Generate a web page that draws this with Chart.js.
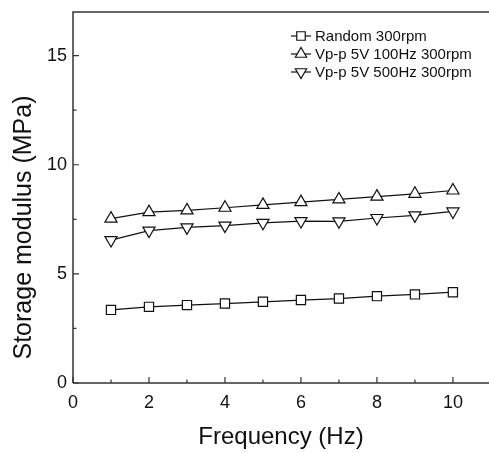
<!DOCTYPE html>
<html>
<head>
<meta charset="utf-8">
<script src="https://cdn.jsdelivr.net/npm/chart.js@4.4.0/dist/chart.umd.min.js"></script>
<style>
  html, body { margin: 0; padding: 0; background: #fff; overflow: hidden; }
</style>
</head>
<body>
<canvas id="modulusChart" width="489" height="453"></canvas>
<script>
const frequency = [1, 2, 3, 4, 5, 6, 7, 8, 9, 10];
const random300 = [3.35, 3.49, 3.57, 3.64, 3.72, 3.80, 3.87, 3.98, 4.06, 4.16];
const vpp100Hz = [7.53, 7.83, 7.91, 8.03, 8.16, 8.29, 8.41, 8.54, 8.67, 8.82];
const vpp500Hz = [6.55, 6.98, 7.13, 7.21, 7.34, 7.42, 7.41, 7.56, 7.68, 7.86];
const seriesLabels = ['Random 300rpm', 'Vp-p 5V 100Hz 300rpm', 'Vp-p 5V 500Hz 300rpm'];
const xTicks = [0, 2, 4, 6, 8, 10];
const yTicks = [0, 5, 10, 15];
const yTitle = 'Storage modulus (MPa)';

const FONT = '"Liberation Sans", Arial, sans-serif';
const ink = '#111';

function toPoints(values) {
  return frequency.map((f, i) => ({ x: f, y: values[i] }));
}

function series(label, values, style, rotation) {
  return {
    label: label,
    data: toPoints(values),
    borderColor: ink,
    borderWidth: 1.2,
    pointStyle: style,
    rotation: rotation,
    pointRadius: style === 'rect' ? 6.5 : 7,
    pointBackgroundColor: '#fff',
    pointBorderColor: ink,
    pointBorderWidth: 1.2,
    tension: 0
  };
}

// frame on left/top/bottom plus inward ticks (major + minor)
const framePlugin = {
  id: 'frame',
  afterDraw(chart) {
    const { ctx, chartArea: a, scales: { x, y } } = chart;
    ctx.save();
    ctx.strokeStyle = '#333';
    ctx.lineWidth = 1.5;
    ctx.beginPath();
    ctx.moveTo(a.left, a.bottom); ctx.lineTo(a.left, a.top); ctx.lineTo(a.right, a.top);
    ctx.moveTo(a.left, a.bottom); ctx.lineTo(a.right, a.bottom);
    ctx.stroke();

    ctx.lineWidth = 1.2;
    ctx.beginPath();
    const xStep = (xTicks[1] - xTicks[0]) / 2;
    for (let v = xTicks[0]; v <= xTicks[xTicks.length - 1] + xStep; v += xStep) {
      const px = x.getPixelForValue(v);
      if (px > a.right) break;
      const len = xTicks.includes(v) ? 6 : 3.5;
      ctx.moveTo(px, a.bottom); ctx.lineTo(px, a.bottom - len);
    }
    const yStep = (yTicks[1] - yTicks[0]) / 2;
    for (let v = yTicks[0]; v <= y.max; v += yStep) {
      const py = y.getPixelForValue(v);
      const len = yTicks.includes(v) ? 6 : 3.5;
      ctx.moveTo(a.left, py); ctx.lineTo(a.left + len, py);
    }
    ctx.stroke();

    // y title, sits a bit below the middle of the axis in the original
    ctx.fillStyle = ink;
    ctx.font = '25px ' + FONT;
    ctx.textAlign = 'center';
    ctx.textBaseline = 'middle';
    ctx.translate(24, (a.top + a.bottom) / 2 + 30);
    ctx.rotate(-Math.PI / 2);
    ctx.fillText(yTitle, 0, 0);
    ctx.restore();
  }
};

function drawMarker(ctx, style, rotation, cx, cy, r) {
  ctx.beginPath();
  if (style === 'rect') {
    const s = r * Math.SQRT1_2;
    ctx.rect(cx - s, cy - s, 2 * s, 2 * s);
  } else {
    let rad = rotation * Math.PI / 180;
    ctx.moveTo(cx + Math.sin(rad) * r, cy - Math.cos(rad) * r);
    for (let k = 0; k < 2; k++) {
      rad += 2 * Math.PI / 3;
      ctx.lineTo(cx + Math.sin(rad) * r, cy - Math.cos(rad) * r);
    }
    ctx.closePath();
  }
  ctx.fill();
  ctx.stroke();
}

// legend: short line with the marker in the middle, like the original plot
const legendPlugin = {
  id: 'markerLegend',
  afterDraw(chart) {
    const { ctx, chartArea: a } = chart;
    const x0 = a.right - 198;
    const y0 = a.top + 24;
    ctx.save();
    ctx.font = '15px ' + FONT;
    ctx.textBaseline = 'middle';
    chart.data.datasets.forEach((ds, i) => {
      const yy = y0 + i * 18;
      ctx.strokeStyle = ink;
      ctx.lineWidth = 1.2;
      ctx.beginPath();
      ctx.moveTo(x0, yy); ctx.lineTo(x0 + 20, yy);
      ctx.stroke();
      ctx.fillStyle = '#fff';
      drawMarker(ctx, ds.pointStyle, ds.rotation || 0, x0 + 10, yy, ds.pointStyle === 'rect' ? 6 : 6.5);
      ctx.fillStyle = ink;
      ctx.fillText(ds.label, x0 + 24, yy + 1);
    });
    ctx.restore();
  }
};

new Chart(document.getElementById('modulusChart').getContext('2d'), {
  type: 'line',
  data: {
    datasets: [
      series(seriesLabels[0], random300, 'rect', 0),
      series(seriesLabels[1], vpp100Hz, 'triangle', 0),
      series(seriesLabels[2], vpp500Hz, 'triangle', 180)
    ]
  },
  options: {
    responsive: false,
    animation: false,
    layout: { autoPadding: false, padding: { top: 12, right: 0, left: 0, bottom: 0 } },
    plugins: {
      legend: { display: false },
      tooltip: { enabled: false }
    },
    scales: {
      x: {
        type: 'linear',
        min: 0,
        max: 10.95,
        afterFit(scale) { scale.height = 70; scale.paddingRight = 0; scale.paddingLeft = 0; },
        afterBuildTicks(scale) { scale.ticks = xTicks.map(v => ({ value: v })); },
        grid: { display: false, drawTicks: false },
        border: { display: false },
        ticks: { color: ink, font: { family: FONT, size: 18 }, padding: 9, maxRotation: 0 },
        title: { display: true, text: 'Frequency (Hz)', color: ink, font: { family: FONT, size: 24 }, padding: { top: 0, bottom: 1 } }
      },
      y: {
        min: 0,
        max: 17,
        afterFit(scale) { scale.width = 73; scale.paddingTop = 0; scale.paddingBottom = 0; },
        afterBuildTicks(scale) { scale.ticks = yTicks.map(v => ({ value: v })); },
        grid: { display: false, drawTicks: false },
        border: { display: false },
        ticks: { color: ink, font: { family: FONT, size: 18 }, padding: 6 },
        title: { display: false }
      }
    }
  },
  plugins: [framePlugin, legendPlugin]
});
</script>
</body>
</html>
